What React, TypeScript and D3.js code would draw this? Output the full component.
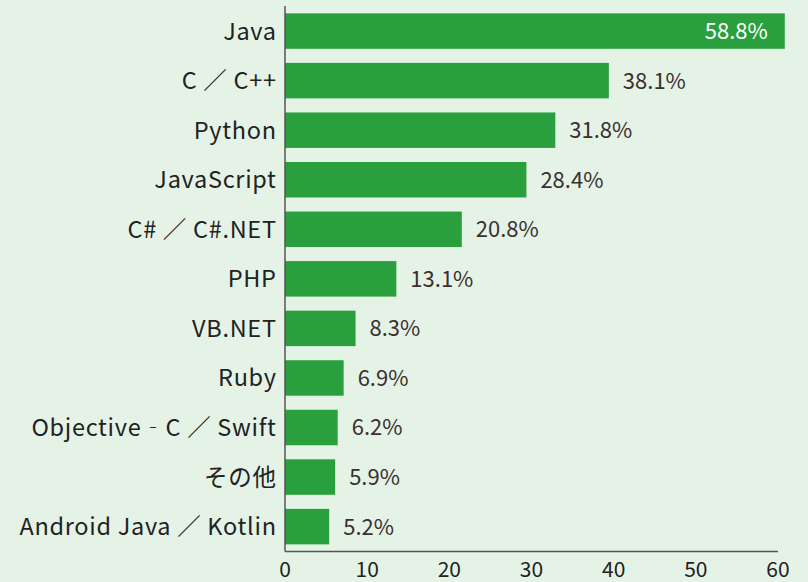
import React from "react";
import * as d3 from "d3";

const categories = [
  "Java",
  "C ／ C++",
  "Python",
  "JavaScript",
  "C# ／ C#.NET",
  "PHP",
  "VB.NET",
  "Ruby",
  "Objective‐C ／ Swift",
  "その他",
  "Android Java ／ Kotlin",
];
const values = [58.8, 38.1, 31.8, 28.4, 20.8, 13.1, 8.3, 6.9, 6.2, 5.9, 5.2];
const tickValues = [0, 10, 20, 30, 40, 50, 60];

const W = 808;
const H = 582;
const FONT = "'Noto Sans CJK JP', 'Noto Sans', sans-serif";
const LS = 0.7;

export default function App() {
  const x0 = 285;
  const barX = d3.scaleLinear().domain([0, 60]).range([x0, 795]);
  const axisX = d3.scaleLinear().domain([0, 60]).range([x0, 778]);
  const y = d3
    .scaleBand<string>()
    .domain(categories)
    .range([6.3, 551.4])
    .paddingInner(0.284)
    .paddingOuter(0.142);
  const axisY = 551.5;
  const data = categories.map((c, i) => ({ c, v: values[i] }));

  return (
    <svg
      width={W}
      height={H}
      style={{ position: "absolute", left: 0, top: 0, display: "block" }}
    >
      <rect x={0} y={0} width={W} height={H} fill="#e5f3e7" />
      {data.map((d, i) => {
        const yy = y(d.c)!;
        const bw = barX(d.v) - x0;
        const inside = i === 0;
        return (
          <g key={d.c}>
            <rect x={x0} y={yy} width={bw} height={y.bandwidth()} fill="#29a03d" />
            <text
              x={276 + LS}
              y={yy + y.bandwidth() / 2}
              dy="0.36em"
              textAnchor="end"
              fontFamily={FONT}
              fontSize={23.5}
              fontWeight={400}
              letterSpacing={LS}
              fill="#222"
            >
              {d.c}
            </text>
            <text
              x={inside ? barX(d.v) - 17 : barX(d.v) + 14}
              y={yy + y.bandwidth() / 2}
              dy="0.36em"
              textAnchor={inside ? "end" : "start"}
              fontFamily={FONT}
              fontSize={22}
              fontWeight={400}
              fill={inside ? "#ffffff" : "#3a3030"}
            >
              {d.v.toFixed(1)}%
            </text>
          </g>
        );
      })}
      <line x1={x0} x2={x0} y1={6} y2={axisY} stroke="#555" strokeWidth={1.5} />
      <line x1={x0} x2={axisX(60)} y1={axisY} y2={axisY} stroke="#555" strokeWidth={1.5} />
      {tickValues.map((t) => (
        <text
          key={t}
          x={axisX(t)}
          y={569.5}
          dy="0.36em"
          textAnchor="middle"
          fontFamily={FONT}
          fontSize={21}
          fontWeight={400}
          fill="#222"
        >
          {t}
        </text>
      ))}
    </svg>
  );
}
